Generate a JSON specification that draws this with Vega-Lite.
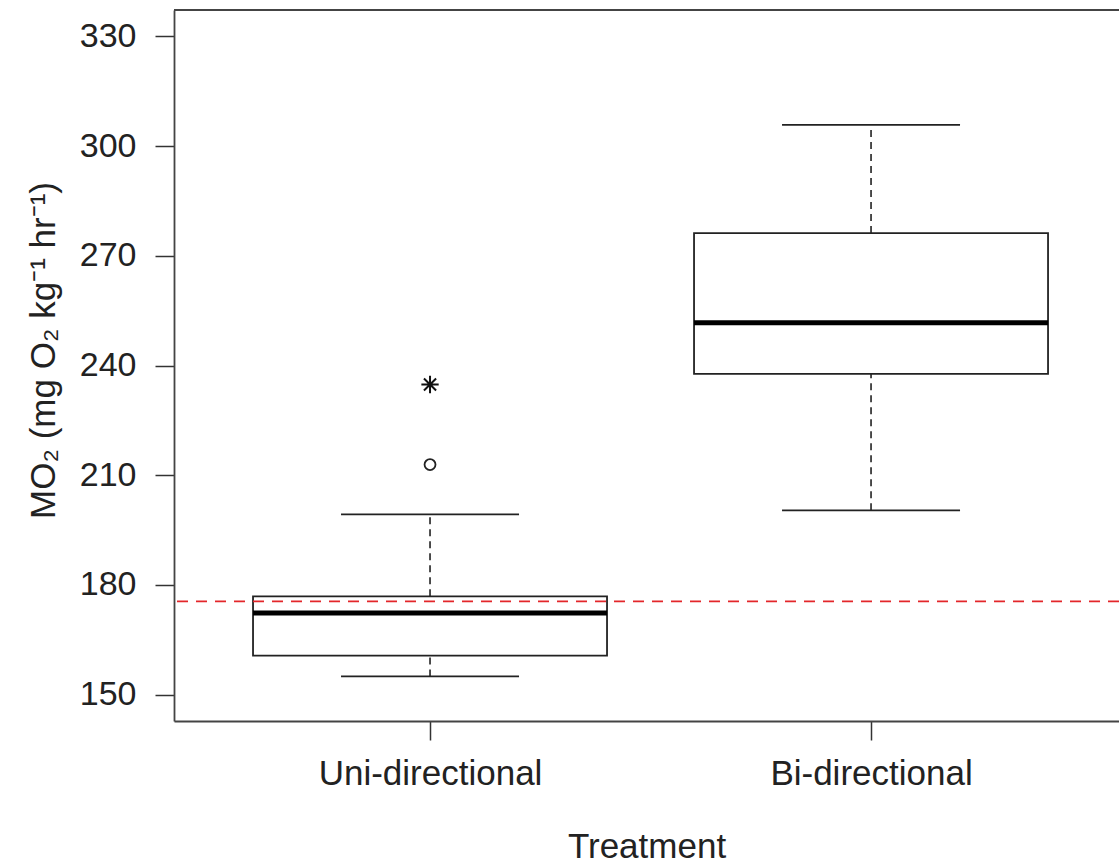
{
  "$schema": "https://vega.github.io/schema/vega-lite/v6.json",
  "width": 945,
  "height": 711,
  "autosize": {"type": "none"},
  "padding": {"left": 174, "top": 10, "right": 0, "bottom": 142},
  "background": "white",
  "config": {
    "view": {"stroke": null},
    "font": "Liberation Sans",
    "axis": {"grid": false}
  },
  "datasets": {
    "boxes": [
      {"treatment": "Uni-directional", "lower": 155.0, "q1": 160.7, "median": 172.3, "q3": 176.9, "upper": 199.3},
      {"treatment": "Bi-directional", "lower": 200.4, "q1": 237.7, "median": 251.7, "q3": 276.2, "upper": 305.8}
    ],
    "outliers": [
      {"treatment": "Uni-directional", "value": 212.9, "kind": "circle"},
      {"treatment": "Uni-directional", "value": 234.8, "kind": "asterisk"}
    ],
    "reference": [{"level": 175.5}]
  },
  "layer": [
    {
      "data": {"name": "boxes"},
      "mark": {"type": "rule", "color": "#222", "strokeWidth": 1.6, "strokeDash": [7, 5]},
      "encoding": {
        "x": {
          "field": "treatment", "type": "nominal", "sort": null,
          "scale": {"type": "point", "domain": ["Uni-directional", "Bi-directional"], "padding": 0.5714, "align": 0.508},
          "axis": {
            "title": "Treatment",
            "titleFont": "Liberation Sans", "titleFontSize": 35, "titleFontWeight": "normal", "titleColor": "#222",
            "titleBaseline": "alphabetic", "titleY": 136,
            "labelFont": "Liberation Sans", "labelFontSize": 35, "labelColor": "#222", "labelAngle": 0,
            "labelPadding": 16, "labelLimit": 0,
            "tickSize": 19, "tickWidth": 1.5, "tickColor": "#333",
            "domainColor": "#444", "domainWidth": 1.8
          }
        },
        "y": {
          "field": "q3", "type": "quantitative",
          "scale": {"domain": [142.8, 337.2], "nice": false, "zero": false},
          "axis": {
            "title": "MO₂ (mg O₂ kg⁻¹ hr⁻¹)",
            "values": [150, 180, 210, 240, 270, 300, 330],
            "titleFont": "Liberation Sans", "titleFontSize": 35, "titleFontWeight": "normal", "titleColor": "#222",
            "titleAngle": -90, "titleBaseline": "alphabetic", "titleAlign": "center",
            "titleX": -120, "titleY": 340,
            "labelFont": "Liberation Sans", "labelFontSize": 34, "labelColor": "#222",
            "labelPadding": 19,
            "tickSize": 19, "tickWidth": 1.5, "tickColor": "#333",
            "domainColor": "#444", "domainWidth": 1.8
          }
        },
        "y2": {"field": "upper"}
      }
    },
    {
      "data": {"name": "boxes"},
      "mark": {"type": "rule", "color": "#222", "strokeWidth": 1.6, "strokeDash": [7, 5]},
      "encoding": {
        "x": {"field": "treatment", "type": "nominal", "sort": null},
        "y": {"field": "lower", "type": "quantitative"},
        "y2": {"field": "q1"}
      }
    },
    {
      "data": {"name": "boxes"},
      "mark": {"type": "tick", "color": "#222", "thickness": 1.8, "size": 178, "orient": "horizontal", "opacity": 1},
      "encoding": {
        "x": {"field": "treatment", "type": "nominal", "sort": null},
        "y": {"field": "upper", "type": "quantitative"}
      }
    },
    {
      "data": {"name": "boxes"},
      "mark": {"type": "tick", "color": "#222", "thickness": 1.8, "size": 178, "orient": "horizontal", "opacity": 1},
      "encoding": {
        "x": {"field": "treatment", "type": "nominal", "sort": null},
        "y": {"field": "lower", "type": "quantitative"}
      }
    },
    {
      "data": {"name": "boxes"},
      "mark": {"type": "bar", "fill": "white", "stroke": "#222", "strokeWidth": 1.8, "width": 354, "opacity": 1},
      "encoding": {
        "x": {"field": "treatment", "type": "nominal", "sort": null},
        "y": {"field": "q1", "type": "quantitative"},
        "y2": {"field": "q3"}
      }
    },
    {
      "data": {"name": "boxes"},
      "mark": {"type": "tick", "color": "#000", "thickness": 5, "size": 354, "orient": "horizontal", "opacity": 1},
      "encoding": {
        "x": {"field": "treatment", "type": "nominal", "sort": null},
        "y": {"field": "median", "type": "quantitative"}
      }
    },
    {
      "data": {"name": "outliers"},
      "transform": [{"filter": "datum.kind === 'circle'"}],
      "mark": {"type": "point", "shape": "circle", "filled": false, "stroke": "#222", "strokeWidth": 1.8, "size": 120, "opacity": 1},
      "encoding": {
        "x": {"field": "treatment", "type": "nominal", "sort": null},
        "y": {"field": "value", "type": "quantitative"}
      }
    },
    {
      "data": {"name": "outliers"},
      "transform": [{"filter": "datum.kind === 'asterisk'"}],
      "mark": {"type": "point", "shape": "M0,-1L0,1M-1,0L1,0M-0.7,-0.7L0.7,0.7M-0.7,0.7L0.7,-0.7", "filled": false, "stroke": "#111", "strokeWidth": 2, "size": 300, "opacity": 1},
      "encoding": {
        "x": {"field": "treatment", "type": "nominal", "sort": null},
        "y": {"field": "value", "type": "quantitative"}
      }
    },
    {
      "data": {"name": "reference"},
      "mark": {"type": "rule", "color": "#e3262a", "strokeWidth": 1.8, "strokeDash": [11, 8]},
      "encoding": {
        "y": {"field": "level", "type": "quantitative"}
      }
    },
    {
      "data": {"values": [{"edge": 337.2}]},
      "mark": {"type": "rule", "color": "#444", "strokeWidth": 1.8},
      "encoding": {
        "y": {"field": "edge", "type": "quantitative"}
      }
    }
  ]
}
